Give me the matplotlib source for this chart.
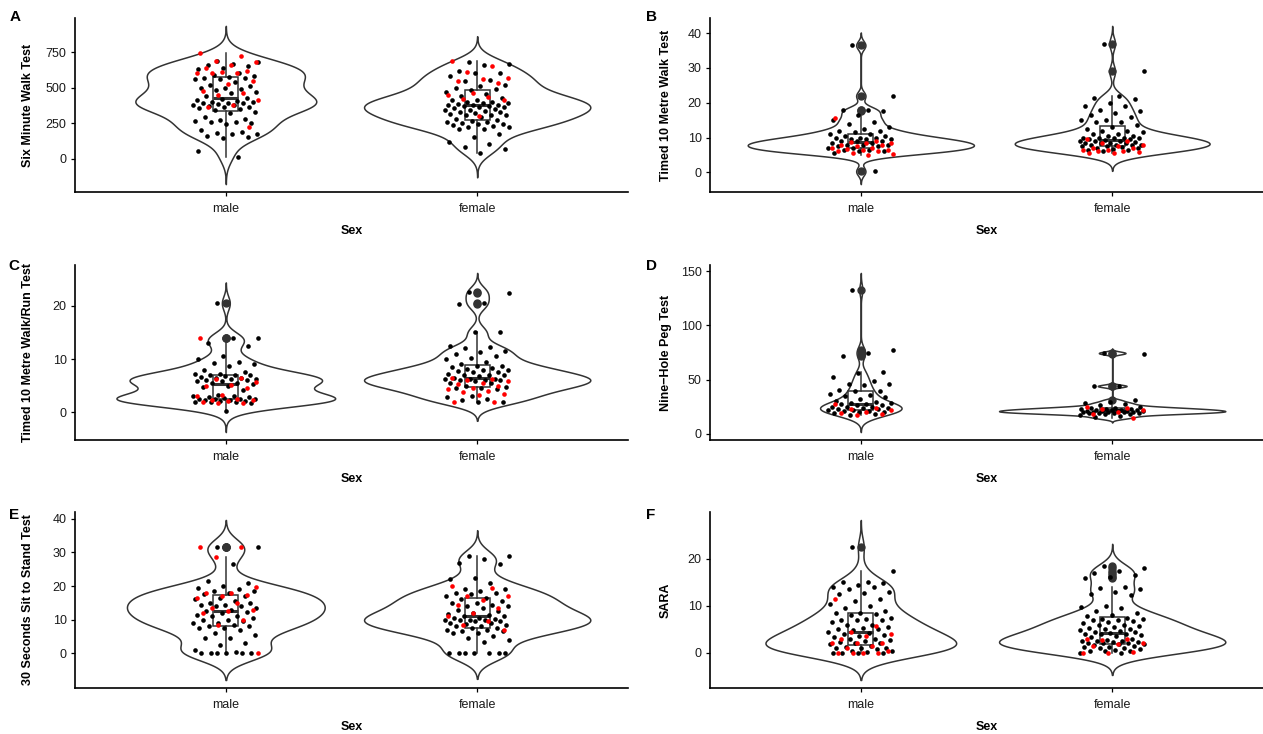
import numpy as np
import matplotlib.pyplot as plt

plt.rcParams['font.family'] = ['Liberation Sans', 'DejaVu Sans']

sexes = ['male', 'female']
panel_letters = ['A', 'B', 'C', 'D', 'E', 'F']
y_titles = ['Six Minute Walk Test', 'Timed 10 Metre Walk Test',
            'Timed 10 Metre Walk/Run Test', 'Nine\u2212Hole Peg Test',
            '30 Seconds Sit to Stand Test', 'SARA']
y_ticks = [[0, 250, 500, 750], [0, 10, 20, 30, 40], [0, 10, 20],
           [0, 50, 100, 150], [0, 10, 20, 30, 40], [0, 10, 20]]

# A: six minute walk test
a_male_black = [690, 680, 670, 660, 650, 640, 630, 600, 590, 580, 575, 570, 570, 560, 560,
                540, 520, 510, 500, 500, 490, 480, 470, 460, 440, 430, 420, 410, 405, 400,
                400, 395, 390, 390, 385, 380, 375, 370, 365, 360, 355, 350, 340, 330, 320,
                290, 280, 270, 265, 255, 255, 250, 240, 200, 190, 180, 175, 170, 160, 150,
                145, 50, 10]
a_male_red = [745, 720, 690, 680, 660, 640, 620, 610, 605, 600, 600, 550, 525, 475, 460,
              450, 410, 380, 360, 220]
a_female_black = [680, 670, 660, 620, 600, 600, 580, 555, 550, 520, 510, 500, 490, 480, 470,
                  455, 440, 425, 415, 410, 400, 400, 395, 390, 385, 380, 380, 375, 370, 370,
                  365, 360, 355, 350, 345, 340, 335, 330, 325, 320, 315, 310, 310, 305, 290,
                  280, 270, 265, 260, 255, 250, 245, 240, 235, 230, 225, 220, 210, 205, 170,
                  150, 120, 100, 80, 70, 40]
a_female_red = [690, 650, 610, 570, 560, 545, 530, 460, 450, 435, 420, 410, 300]

# B: timed 10 metre walk test
b_male_black = [36.5, 22, 18, 18, 17.5, 16.5, 15, 14.5, 14, 13, 12.5, 12, 12, 11.5, 11, 11,
                10.5, 10.5, 10, 10, 10, 9.5, 9.5, 9.5, 9, 9, 9, 8.5, 8.5, 8, 8, 8, 7.5, 7.5,
                7, 7, 6.5, 6.5, 6, 6, 5.5, 0.3]
b_male_red = [15.5, 9, 8.8, 8.5, 8.3, 8, 7.8, 7.5, 7, 7, 6.8, 6.5, 6.3, 6, 6, 5.5, 5.2, 5]
b_female_black = [37, 29, 22, 21.5, 21, 20, 19, 19, 18, 17.5, 17, 16.5, 16, 15, 15, 14.5,
                  14.5, 13.5, 13, 12.5, 12, 12, 11.5, 11, 11, 10.5, 10.5, 10, 10, 10, 10, 9.8,
                  9.5, 9.5, 9.3, 9, 9, 9, 8.8, 8.5, 8.5, 8.5, 8.3, 8, 8, 8, 7.8, 7.5, 7.5, 7.3,
                  7, 7, 6.8, 6.5, 6.3, 6]
b_female_red = [9.5, 9, 8.5, 8, 7.5, 7, 7, 6.5, 6.5, 6, 6, 5.8, 5.5, 5.5]

# C: timed 10 metre walk/run test
c_male_black = [20.5, 14, 14, 13, 12.5, 10.5, 10, 9.5, 9.3, 9, 8.7, 8, 7.5, 7.3, 7.2, 7, 7,
                7, 6.8, 6.7, 6.5, 6.5, 6.3, 6.2, 6, 6, 5.8, 5.8, 5.5, 5.5, 5.3, 5, 4.8, 4.2,
                3.2, 3, 3, 2.8, 2.8, 2.7, 2.6, 2.5, 2.5, 2.5, 2.4, 2.3, 2.2, 2.1, 2, 2, 1.9,
                1.8, 0.2]
c_male_red = [14, 6.5, 6.2, 5.7, 5.2, 5, 4.5, 3.3, 3, 2.5, 2.4, 2.3, 2.2, 2, 1.8, 1.7]
c_female_black = [22.6, 22.5, 20.5, 20.3, 15, 15, 12.5, 12.2, 12, 11.5, 11.3, 11, 10.5, 10.2,
                  10, 9.5, 9, 8.8, 8.7, 8.5, 8.3, 8.2, 8, 8, 7.8, 7.5, 7.5, 7.3, 7, 7, 7, 6.8,
                  6.5, 6.3, 6.2, 6.2, 6, 6, 6, 5.8, 5.5, 5.5, 5, 4.8, 4.5, 4.5, 4.3, 3, 2.8,
                  2.5, 2.3, 2, 2]
c_female_red = [6.5, 6.3, 6, 5.8, 5.5, 5.3, 5, 4.5, 4.3, 4, 3.8, 3.5, 3.3, 2, 2]

# D: nine-hole peg test
d_male_black = [133, 77, 75, 72, 57, 56, 52, 49, 46, 46, 45, 40, 39, 39, 37, 36, 35, 34, 32,
                30, 29, 28, 28, 27, 27, 26, 26, 25, 25, 25, 24, 24, 23, 23, 22, 22, 21, 21, 20,
                20, 19, 18, 17]
d_male_red = [27, 24, 23, 22, 20, 19, 18, 17]
d_female_black = [75, 74, 44, 44, 31, 29, 28, 27, 26, 25, 24, 24, 23, 23, 23, 22, 22, 22, 22,
                  21, 21, 21, 21, 21, 20, 20, 20, 20, 20, 19, 19, 19, 19, 18, 18, 17, 16, 15]
d_female_red = [25, 24, 23, 22, 20, 18, 14]

# E: 30 seconds sit to stand test
e_male_black = [31.7, 31.5, 26.5, 21.5, 21, 20, 19.5, 19, 18.5, 18.5, 18, 17.5, 17, 16.5, 16,
                15.5, 15, 15, 14.5, 14.5, 14, 14, 13.5, 13, 12.5, 12.3, 12, 11.5, 11, 11, 10.5,
                10, 10, 9.5, 9, 9, 8.5, 8, 8, 7.5, 7.5, 7, 6, 5.5, 4.5, 4.5, 3, 2.5, 1, 0.5,
                0, 0, 0, 0, 0, 0]
e_male_red = [31.5, 31.7, 28.5, 19.8, 18, 17.8, 17.3, 17, 16.3, 15, 13.5, 13, 12.5, 12, 10,
              8.5, 0]
e_female_black = [29, 28.8, 28, 27, 26.7, 22.3, 22, 21, 19, 19, 18.5, 18, 18, 17.5, 17, 16.5,
                  16, 15.5, 15, 15, 14.5, 14, 14, 13.5, 13, 12.5, 12, 11.8, 11.5, 11, 11, 10.5,
                  10.5, 10.3, 10, 10, 10, 9.8, 9.5, 9.5, 9, 9, 8.8, 8.5, 8, 8, 7.5, 7.5, 7, 7,
                  6.5, 6.5, 6, 6, 5, 4.5, 4, 3.5, 0, 0, 0, 0, 0, 0, 0]
e_female_red = [20, 19.3, 17, 17, 15.8, 14.3, 13.5, 12, 11, 9.7, 8.5, 7]

# F: SARA
f_male_black = [22.5, 17.5, 15, 15, 14.8, 14.5, 14, 14, 13.5, 13, 12.8, 12.5, 11.5, 11, 10.5,
                10, 9.5, 9, 8.5, 8.5, 8.3, 8, 7.5, 7.3, 7, 7, 7, 6.5, 6, 6, 5.5, 5.3, 5, 5,
                4.8, 4.5, 4.3, 4, 3.8, 3.5, 3.3, 3, 3, 2.8, 2.5, 2.3, 2, 2, 1.8, 1.5, 1.3, 1,
                1, 1, 0.8, 0.5, 0.5, 0.2, 0, 0, 0, 0]
f_male_red = [11.5, 5.7, 4.5, 4, 3.5, 3, 2, 2, 2, 1.5, 1, 0.5, 0, 0, 0, 0]
f_female_black = [18.5, 18, 17.5, 17, 16.5, 16.2, 16, 14, 13.8, 13.5, 13, 12.5, 12.3, 10, 9.8,
                  9.5, 9, 8.5, 8, 7.8, 7.5, 7.3, 7.2, 7, 7, 6.8, 6.5, 6.3, 6, 6, 5.8, 5.5, 5.3,
                  5, 5, 4.8, 4.6, 4.5, 4.4, 4.3, 4.1, 4, 4, 3.8, 3.5, 3.3, 3, 2.8, 2.6, 2.5,
                  2.5, 2.4, 2.3, 2.2, 2.2, 2.1, 1.9, 1.8, 1.6, 1.5, 1.3, 1.2, 1, 1, 0.8, 0.7,
                  0.5, 0.5, 0.3, 0, 0]
f_female_red = [3, 3, 2.8, 2, 1.8, 1.5, 0.2, 0, 0]

black_sets = [(a_male_black, a_female_black), (b_male_black, b_female_black),
              (c_male_black, c_female_black), (d_male_black, d_female_black),
              (e_male_black, e_female_black), (f_male_black, f_female_black)]
red_sets = [(a_male_red, a_female_red), (b_male_red, b_female_red),
            (c_male_red, c_female_red), (d_male_red, d_female_red),
            (e_male_red, e_female_red), (f_male_red, f_female_red)]

GREY = '#333333'
W, H = 1263, 734


def nrd0(x):
    # R's default bandwidth
    sd = x.std(ddof=1)
    q75, q25 = np.percentile(x, [75, 25])
    lo = min(sd, (q75 - q25) / 1.34)
    if lo <= 0:
        lo = sd
    return 0.9 * lo * len(x) ** -0.2


def violin_curve(x):
    bw = nrd0(x)
    grid = np.linspace(x.min() - 3 * bw, x.max() + 3 * bw, 512)
    z = (grid[:, None] - x[None, :]) / bw
    dens = np.exp(-0.5 * z ** 2).sum(1) / (len(x) * bw * np.sqrt(2 * np.pi))
    return grid, dens


def draw_panel(ax, blacks, reds, ytitle, ticks):
    vals = [np.array(b + r, dtype=float) for b, r in zip(blacks, reds)]
    curves = [violin_curve(v) for v in vals]
    dmax = max(c[1].max() for c in curves)
    for i, (grid, dens) in enumerate(curves):
        hw = dens / dmax * 0.45
        ax.fill_betweenx(grid, i + 1 - hw, i + 1 + hw, facecolor='white',
                         edgecolor=GREY, linewidth=1.1, zorder=1)

    ax.boxplot(vals, positions=[1, 2], widths=0.1, patch_artist=True, showcaps=False,
               boxprops=dict(facecolor='white', edgecolor=GREY, linewidth=1.1),
               medianprops=dict(color=GREY, linewidth=2.2),
               whiskerprops=dict(color=GREY, linewidth=1.1),
               flierprops=dict(marker='o', markerfacecolor=GREY, markeredgecolor=GREY,
                               markersize=5),
               zorder=2)

    # jittered points (deterministic spread)
    for i in range(2):
        for pts, col, phase in ((blacks[i], 'black', 0.37), (reds[i], 'red', 0.11)):
            k = np.arange(len(pts))
            off = ((k * 0.6180339887 + phase) % 1 - 0.5) * 0.26
            ax.scatter(i + 1 + off, pts, s=11, color=col, linewidths=0, zorder=3)

    lo = min(c[0][0] for c in curves)
    hi = max(c[0][-1] for c in curves)
    pad = 0.05 * (hi - lo)
    ax.set_ylim(lo - pad, hi + pad)
    ax.set_xlim(0.4, 2.6)
    ax.spines[['top', 'right']].set_visible(False)
    for s in ('left', 'bottom'):
        ax.spines[s].set_linewidth(1.2)
    ax.set_xticks([1, 2], sexes)
    ax.set_yticks(ticks)
    ax.tick_params(length=3, width=0.9, labelsize=9, pad=3, labelcolor='#1a1a1a')
    ax.tick_params(axis='x', pad=5)
    ax.set_xlabel('Sex', fontweight='bold', fontsize=9, labelpad=7)
    ax.set_ylabel(ytitle, fontweight='bold', fontsize=9)


fig = plt.figure(figsize=(W / 100, H / 100), dpi=100)

col_x = [(75, 628), (710, 1263)]
row_y = [(18, 192), (265, 440), (512, 688)]
label_px = [34, 672]
letter_pos = [(15, 17), (651, 17), (14, 266), (651, 266), (14, 515), (651, 515)]

for idx in range(6):
    r, c = divmod(idx, 2)
    x0, x1 = col_x[c]
    y0, y1 = row_y[r]
    ax = fig.add_axes([x0 / W, 1 - y1 / H, (x1 - x0) / W, (y1 - y0) / H])
    draw_panel(ax, list(black_sets[idx]), list(red_sets[idx]), y_titles[idx], y_ticks[idx])
    ax.yaxis.set_label_coords((label_px[c] - x0) / (x1 - x0), 0.5)
    lx, ly = letter_pos[idx]
    fig.text(lx / W, 1 - ly / H, panel_letters[idx], fontsize=11, fontweight='bold',
             ha='center', va='center')

fig.savefig('out.png', dpi=100)
